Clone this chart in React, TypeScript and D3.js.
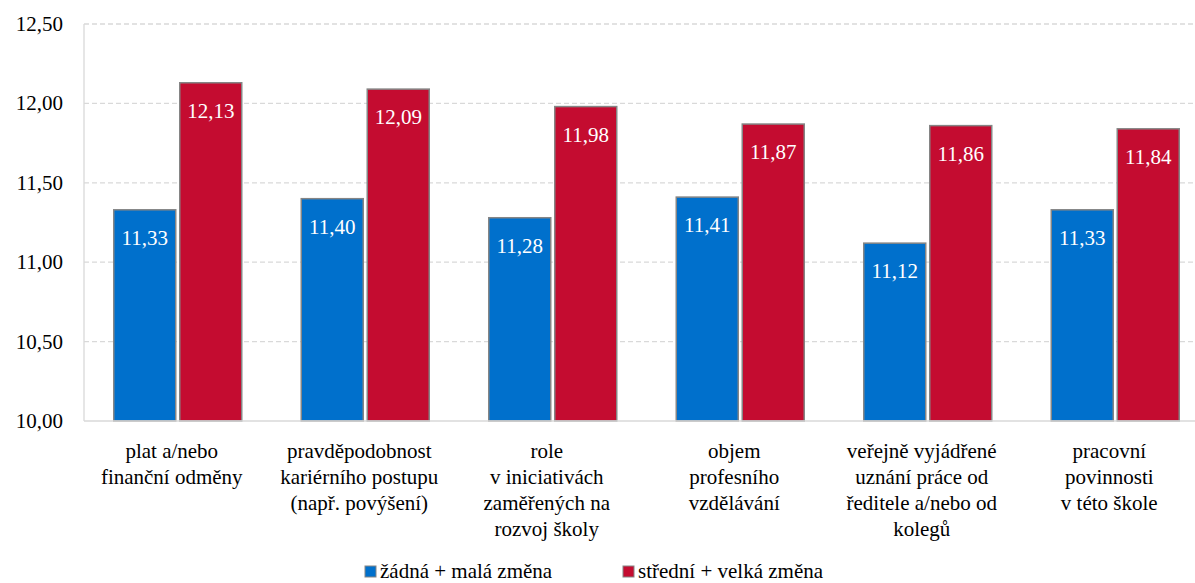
import React from "react";
import { scaleLinear, scaleBand } from "d3";

const categories: string[][] = [
  ["plat a/nebo", "finanční odměny"],
  ["pravděpodobnost", "kariérního postupu", "(např. povýšení)"],
  ["role", "v iniciativách", "zaměřených na", "rozvoj školy"],
  ["objem", "profesního", "vzdělávání"],
  ["veřejně vyjádřené", "uznání práce od", "ředitele a/nebo od", "kolegů"],
  ["pracovní", "povinnosti", "v této škole"],
];
const seriesNames = ["žádná + malá změna", "střední + velká změna"];
const lowChange = [11.33, 11.4, 11.28, 11.41, 11.12, 11.33];
const highChange = [12.13, 12.09, 11.98, 11.87, 11.86, 11.84];
const yTicks = [10, 10.5, 11, 11.5, 12, 12.5];
const colors = ["#0070CC", "#C40C30"];

const fmt = (v: number) => v.toFixed(2).replace(".", ",");
const FONT = "Liberation Serif";

export default function App() {
  const width = 1195;
  const height = 583;
  const margin = { top: 24, left: 84, right: -14, bottom: 162 };

  const x = scaleBand<number>()
    .domain(categories.map((_, i) => i))
    .range([margin.left, width - margin.right]);
  const y = scaleLinear()
    .domain([10, 12.5])
    .range([height - margin.bottom, margin.top]);

  const bw = 62;
  const series = [lowChange, highChange];
  const cx = (i: number) => (x(i) as number) + x.bandwidth() / 2;
  const bx = (i: number, si: number) => cx(i) + (si === 0 ? -bw - 2 : 2);
  const legX = [365, 623];

  return (
    <svg
      width={width}
      height={height}
      style={{ position: "absolute", left: 0, top: 0, background: "#fff" }}
    >
      {/* grid */}
      {yTicks.slice(1).map((t) => (
        <line
          key={"g" + t}
          x1={margin.left}
          x2={width - margin.right}
          y1={y(t)}
          y2={y(t)}
          stroke="#d9d9d9"
          strokeWidth={1.3}
          strokeDasharray="5,3"
        />
      ))}
      <line
        x1={margin.left}
        x2={margin.left}
        y1={y(12.5)}
        y2={y(10)}
        stroke="#d9d9d9"
        strokeWidth={1.3}
      />
      {/* y tick labels */}
      {yTicks.map((t) => (
        <text
          key={"t" + t}
          x={margin.left - 21}
          y={y(t) + 7}
          textAnchor="end"
          fontFamily={FONT}
          fontSize={21}
        >
          {fmt(t)}
        </text>
      ))}
      {/* bars */}
      {series.map((vals, si) => (
        <g key={"s" + si}>
          {vals.map((d, i) => (
            <rect
              key={i}
              x={bx(i, si)}
              y={y(d)}
              width={bw}
              height={y(10) - y(d)}
              fill={colors[si]}
              stroke="#858585"
              strokeWidth={1.5}
            />
          ))}
          {vals.map((d, i) => (
            <text
              key={"l" + i}
              x={bx(i, si) + bw / 2}
              y={y(d) + 35}
              textAnchor="middle"
              fontFamily={FONT}
              fontSize={21}
              fill="#fff"
            >
              {fmt(d)}
            </text>
          ))}
        </g>
      ))}
      <line
        x1={margin.left}
        x2={width - margin.right}
        y1={y(10)}
        y2={y(10)}
        stroke="#d9d9d9"
        strokeWidth={1.5}
      />
      {/* category labels */}
      {categories.map((lines, i) =>
        lines.map((ln, j) => (
          <text
            key={"c" + i + "-" + j}
            x={cx(i) - 6}
            y={458 + j * 26}
            textAnchor="middle"
            fontFamily={FONT}
            fontSize={21}
          >
            {ln}
          </text>
        ))
      )}
      {/* legend */}
      {seriesNames.map((name, i) => (
        <g key={"lg" + i}>
          <rect
            x={legX[i]}
            y={566}
            width={11}
            height={11}
            fill={colors[i]}
            stroke="#858585"
            strokeWidth={1}
          />
          <text x={legX[i] + 15} y={578} fontFamily={FONT} fontSize={21}>
            {name}
          </text>
        </g>
      ))}
    </svg>
  );
}
